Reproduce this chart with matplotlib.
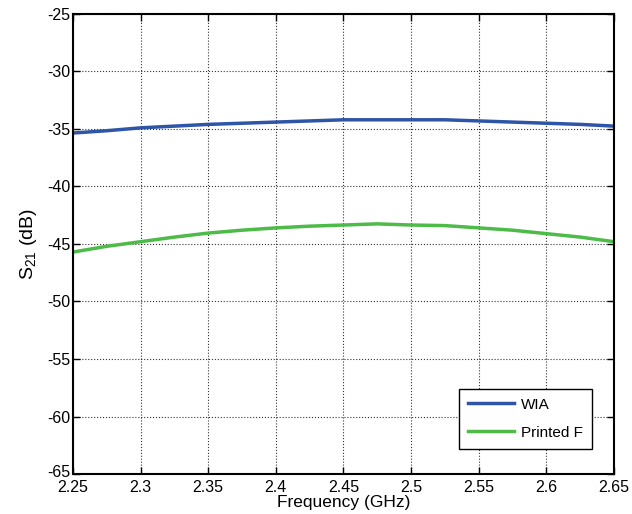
import matplotlib
matplotlib.use("Agg")
import matplotlib.pyplot as plt
import matplotlib.transforms as mtransforms
import numpy as np

freq = [2.25, 2.275, 2.30, 2.325, 2.35, 2.375, 2.40, 2.425, 2.45, 2.475, 2.50, 2.525, 2.55, 2.575, 2.60, 2.625, 2.65]
wia = [-35.35, -35.15, -34.9, -34.75, -34.6, -34.5, -34.4, -34.3, -34.2, -34.2, -34.2, -34.2, -34.3, -34.4, -34.5, -34.6, -34.75]
printed_f = [-45.7, -45.2, -44.8, -44.4, -44.05, -43.8, -43.6, -43.45, -43.35, -43.25, -43.35, -43.4, -43.6, -43.8, -44.1, -44.4, -44.8]

xticks = [2.25, 2.3, 2.35, 2.4, 2.45, 2.5, 2.55, 2.6, 2.65]
xticklabels = ["2.25", "2.3", "2.35", "2.4", "2.45", "2.5", "2.55", "2.6", "2.65"]
yticks = [-65, -60, -55, -50, -45, -40, -35, -30, -25]

plt.rcParams['font.family'] = ['Liberation Sans', 'DejaVu Sans']
plt.rcParams['mathtext.fontset'] = 'custom'
plt.rcParams['mathtext.rm'] = 'Liberation Sans'
plt.rcParams['mathtext.it'] = 'Liberation Sans'
plt.rcParams['axes.unicode_minus'] = False

fig = plt.figure(figsize=(6.32, 5.14), dpi=100)
ax = fig.add_axes([0.1155, 0.0778, 0.856, 0.895])

ax.plot(freq, wia, color='#2f55a6', lw=2.5, label='WIA')
ax.plot(freq, printed_f, color='#4dbb48', lw=2.5, label='Printed F')

ax.set_xlim(2.25, 2.65)
ax.set_ylim(-65, -25)
ax.set_xticks(xticks)
ax.set_xticklabels(xticklabels)
ax.set_yticks(yticks)
ax.grid(True, color='black', linestyle=':', linewidth=0.8, alpha=0.8)
ax.tick_params(direction='in', top=True, right=True, labelsize=11.5, length=5, width=1)
ax.tick_params(axis='y', pad=2)
ax.tick_params(axis='x', pad=4)
for s in ax.spines.values():
    s.set_linewidth(1.5)

# nudge the lowest y label up slightly so it doesn't collide with the first x label
lbl = ax.get_yticklabels()[0]
lbl.set_transform(lbl.get_transform() + mtransforms.ScaledTranslation(0, 2/72, fig.dpi_scale_trans))

ax.set_xlabel('Frequency (GHz)', fontsize=12.5, labelpad=0)
ax.set_ylabel(r'S$_{\mathregular{21}}$ (dB)', fontsize=14, labelpad=6)

leg = ax.legend(loc='lower right', bbox_to_anchor=(0.96, 0.055), fontsize=11, fancybox=False,
                framealpha=1, edgecolor='black', handlelength=3.0, handletextpad=0.5,
                borderpad=0.6, labelspacing=0.9, borderaxespad=0)
leg.get_frame().set_linewidth(1.0)

fig.savefig('out.png', dpi=100)
